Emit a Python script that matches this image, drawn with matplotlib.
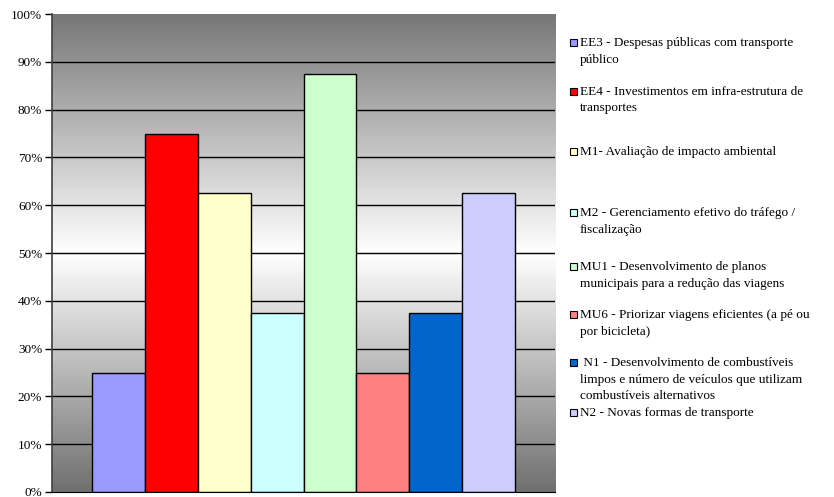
import numpy as np
import matplotlib.pyplot as plt
from matplotlib.patches import Rectangle
from matplotlib.ticker import FuncFormatter

# data
series = ["EE3 - Despesas públicas com transporte\npúblico",
          "EE4 - Investimentos em infra-estrutura de\ntransportes",
          "M1- Avaliação de impacto ambiental",
          "M2 - Gerenciamento efetivo do tráfego /\nfiscalização",
          "MU1 - Desenvolvimento de planos\nmunicipais para a redução das viagens",
          "MU6 - Priorizar viagens eficientes (a pé ou\npor bicicleta)",
          " N1 - Desenvolvimento de combustíveis\nlimpos e número de veículos que utilizam\ncombustíveis alternativos",
          "N2 - Novas formas de transporte"]
values = [25, 75, 62.5, 37.5, 87.5, 25, 37.5, 62.5]
colors = ["#9999FF", "#FF0000", "#FFFFCC", "#CCFFFF",
          "#CCFFCC", "#FF8080", "#0066CC", "#CCCCFF"]
yticks = [0, 10, 20, 30, 40, 50, 60, 70, 80, 90, 100]

plt.rcParams['font.family'] = ['Liberation Serif', 'DejaVu Serif']

fig = plt.figure(figsize=(8.34, 4.97), dpi=100)
ax = fig.add_axes([52/834, 5/497, 503/834, 478/497])

x = np.arange(len(values))
xlim = (-1.256, len(values) - 1 + 1.256)
ax.set_xlim(*xlim)
ax.set_ylim(0, 100)

# gradient background: gray at both ends, white in the middle
t = np.linspace(0, 1, 256)
shade = np.abs(t - 0.5) * 2  # 0 in middle, 1 at ends
top = np.where(t > 0.5, 0x77, 0x70) / 255
grad = 1 - shade * (1 - top)
img = np.repeat(grad[:, None], 2, axis=1)
ax.imshow(img, cmap="gray", vmin=0, vmax=1, origin="lower", aspect="auto",
          extent=(xlim[0], xlim[1], 0, 100), zorder=0, interpolation="bilinear")

for yv in yticks[1:-1]:
    ax.axhline(yv, color="black", lw=1, zorder=1)

ax.bar(x, values, width=1.0, color=colors, edgecolor="black", linewidth=1, zorder=2)

ax.set_yticks(yticks)
ax.yaxis.set_major_formatter(FuncFormatter(lambda v, p: f"{v:.0f}%"))
ax.set_xticks([])
ax.tick_params(axis="y", direction="out", length=5, width=1, labelsize=9.5, pad=2)
for s in ["top", "right"]:
    ax.spines[s].set_visible(False)
ax.spines["left"].set_color("#404040")
ax.spines["left"].set_linewidth(1.2)
ax.spines["bottom"].set_color("black")

# legend, placed by hand like the original
ys = [42, 91, 151, 212, 266, 314, 362, 412]
for lab, c, yp in zip(series, colors, ys):
    fig.patches.append(Rectangle((570/834, 1 - (yp + 3.5)/497), 7/834, 7/497,
                                 transform=fig.transFigure, facecolor=c,
                                 edgecolor="black", linewidth=0.8))
    fig.text(580/834, 1 - (yp - 5)/497, lab, fontsize=9.5, va="top", ha="left",
             linespacing=1.5)

fig.savefig("out.png", dpi=100)
